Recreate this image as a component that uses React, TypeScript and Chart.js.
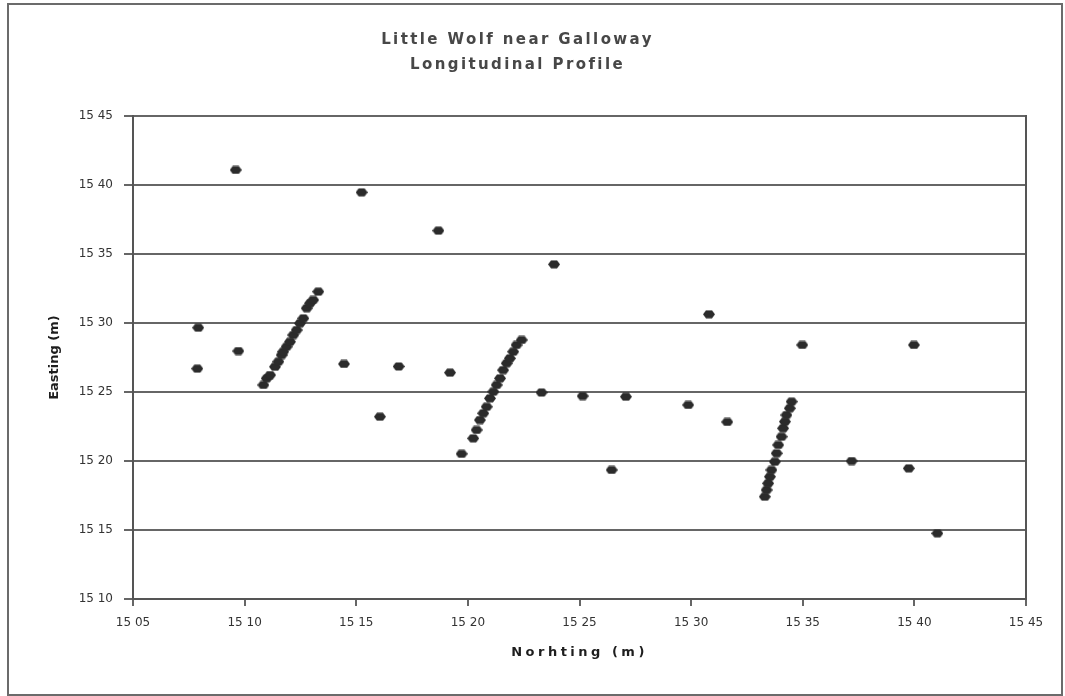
import React, { useEffect, useRef } from 'react';
import { Chart, registerables } from 'chart.js';

Chart.register(...registerables);

const titleLines = ['Little Wolf near Galloway', 'Longitudinal Profile'];
const xAxisTitle = 'Norhting (m)';
const yAxisTitle = 'Easting (m)';

const xTickValues = [1505, 1510, 1515, 1520, 1525, 1530, 1535, 1540, 1545];
const xTickLabels = ['15 05', '15 10', '15 15', '15 20', '15 25', '15 30', '15 35', '15 40', '15 45'];
const yTickValues = [1510, 1515, 1520, 1525, 1530, 1535, 1540, 1545];
const yTickLabels = ['15 10', '15 15', '15 20', '15 25', '15 30', '15 35', '15 40', '15 45'];

// isolated survey points
const northingA = [1507.92, 1507.88, 1509.72, 1509.6, 1515.24, 1514.45, 1516.9, 1516.06, 1518.68, 1523.86, 1519.2, 1519.72,
  1523.3, 1525.14, 1527.08, 1526.44, 1529.87, 1530.8, 1531.62, 1534.98, 1537.19, 1539.98, 1539.75, 1541.03];
const eastingA = [1529.66, 1526.69, 1527.97, 1541.09, 1539.47, 1527.03, 1526.85, 1523.21, 1536.69, 1534.25, 1526.4, 1520.52,
  1524.96, 1524.71, 1524.66, 1519.35, 1524.06, 1530.63, 1522.83, 1528.41, 1520.0, 1528.41, 1519.47, 1514.76];

// first cross-section line
const northingB = [1510.84, 1510.99, 1511.14, 1511.36, 1511.51, 1511.66, 1511.73, 1511.88, 1512.03, 1512.18, 1512.33, 1512.48,
  1512.63, 1512.78, 1512.93, 1513.07, 1513.3];
const eastingB = [1525.51, 1525.99, 1526.23, 1526.83, 1527.2, 1527.68, 1527.92, 1528.28, 1528.64, 1529.13, 1529.49, 1529.98,
  1530.34, 1531.07, 1531.43, 1531.67, 1532.27];

// second cross-section line
const northingC = [1520.24, 1520.39, 1520.54, 1520.69, 1520.84, 1520.99, 1521.14, 1521.29, 1521.44, 1521.58, 1521.74, 1521.88,
  1522.03, 1522.18, 1522.41];
const eastingC = [1521.64, 1522.25, 1522.97, 1523.46, 1523.93, 1524.54, 1525.02, 1525.51, 1525.99, 1526.59, 1527.08, 1527.44,
  1527.92, 1528.41, 1528.77];

// third cross-section line
const northingD = [1533.3, 1533.38, 1533.45, 1533.53, 1533.6, 1533.75, 1533.83, 1533.9, 1534.05, 1534.12, 1534.2, 1534.27,
  1534.42, 1534.5];
const eastingD = [1517.41, 1517.9, 1518.38, 1518.86, 1519.35, 1519.95, 1520.56, 1521.16, 1521.76, 1522.37, 1522.85, 1523.33,
  1523.82, 1524.3];

const northing = [...northingA, ...northingB, ...northingC, ...northingD];
const easting = [...eastingA, ...eastingB, ...eastingC, ...eastingD];

const spacingPlugin = {
  id: 'letterSpacingPatch',
  afterLayout(chart: any) {
    const wrap = (obj: any, key: string, spacing: string) => {
      if (!obj || obj['__ls_' + key]) return;
      const orig = obj[key].bind(obj);
      obj[key] = (...args: any[]) => {
        const c: any = chart.ctx;
        const prev = c.letterSpacing;
        c.letterSpacing = spacing;
        orig(...args);
        c.letterSpacing = prev;
      };
      obj['__ls_' + key] = true;
    };
    wrap(chart.titleBlock, 'draw', '2.4px');
    wrap(chart.scales.x, 'drawTitle', '3.5px');
  },
};

export default function App() {
  const ref = useRef<HTMLCanvasElement>(null);

  useEffect(() => {
    const canvas = ref.current;
    if (!canvas) return;

    const marker = document.createElement('canvas');
    marker.width = 12;
    marker.height = 9;
    const m = marker.getContext('2d')!;
    m.fillStyle = '#2b2b2b';
    m.beginPath();
    m.moveTo(0, 4.5);
    m.lineTo(3, 0.5);
    m.lineTo(9, 0.5);
    m.lineTo(12, 4.5);
    m.lineTo(9, 8.5);
    m.lineTo(3, 8.5);
    m.closePath();
    m.fill();

    const gridColor = '#666666';
    const tickFont = { family: 'DejaVu Sans', size: 12 };

    const chart = new Chart(canvas, {
      type: 'scatter',
      data: {
        datasets: [
          {
            data: northing.map((x, i) => ({ x, y: easting[i] })),
            pointStyle: marker as any,
            pointRadius: 5,
            backgroundColor: '#2b2b2b',
            borderColor: '#2b2b2b',
          },
        ],
      },
      options: {
        responsive: false,
        animation: false,
        devicePixelRatio: 1,
        layout: { padding: { left: 0, right: 35, top: 0, bottom: 0 } },
        plugins: {
          legend: { display: false },
          tooltip: { enabled: false },
          title: {
            display: true,
            text: titleLines,
            color: '#474747',
            font: { family: 'DejaVu Sans', size: 15, weight: 'bold', lineHeight: 1.667 },
            padding: { top: 23, bottom: 38 },
          },
        },
        scales: {
          x: {
            type: 'linear',
            min: 1505,
            max: 1545,
            afterBuildTicks: (s: any) => {
              s.ticks = xTickValues.map((v) => ({ value: v }));
            },
            afterFit: (s: any) => {
              s.height = 95;
            },
            ticks: {
              callback: (_v: any, i: number) => xTickLabels[i],
              color: '#333333',
              font: tickFont,
              padding: 10,
              maxRotation: 0,
              autoSkip: false,
            },
            grid: { display: true, drawOnChartArea: false, drawTicks: true, tickLength: 7, color: gridColor, lineWidth: 2 },
            border: { display: true, color: '#555555', width: 2 },
            title: {
              display: true,
              text: xAxisTitle,
              color: '#1e1e1e',
              font: { family: 'DejaVu Sans', size: 13, weight: 'bold' },
              padding: { top: 0, bottom: 34 },
            },
          },
          y: {
            type: 'linear',
            min: 1510,
            max: 1545,
            afterBuildTicks: (s: any) => {
              s.ticks = yTickValues.map((v) => ({ value: v }));
            },
            afterFit: (s: any) => {
              s.width = 124;
            },
            ticks: {
              callback: (_v: any, i: number) => yTickLabels[i],
              color: '#333333',
              font: tickFont,
              padding: 11,
              autoSkip: false,
            },
            grid: { display: true, drawOnChartArea: true, drawTicks: true, tickLength: 9, color: gridColor, lineWidth: 2 },
            border: { display: true, color: '#555555', width: 2 },
            title: {
              display: true,
              text: yAxisTitle,
              color: '#1e1e1e',
              font: { family: 'DejaVu Sans', size: 13, weight: 'bold' },
              padding: { top: 38, bottom: 0 },
            },
          },
          y2: {
            type: 'linear',
            position: 'right',
            min: 1510,
            max: 1545,
            afterFit: (s: any) => {
              s.width = 0;
            },
            ticks: { display: false },
            grid: { display: false, drawTicks: false },
            border: { display: true, color: '#555555', width: 2 },
          },
        },
      } as any,
      plugins: [spacingPlugin],
    });

    return () => chart.destroy();
  }, []);

  return (
    <div
      style={{
        position: 'absolute',
        left: 7,
        top: 3,
        width: 1056,
        height: 693,
        border: '2px solid #6b6b6b',
        boxSizing: 'border-box',
        background: '#ffffff',
      }}
    >
      <canvas ref={ref} width={1052} height={689} style={{ display: 'block' }} />
    </div>
  );
}
